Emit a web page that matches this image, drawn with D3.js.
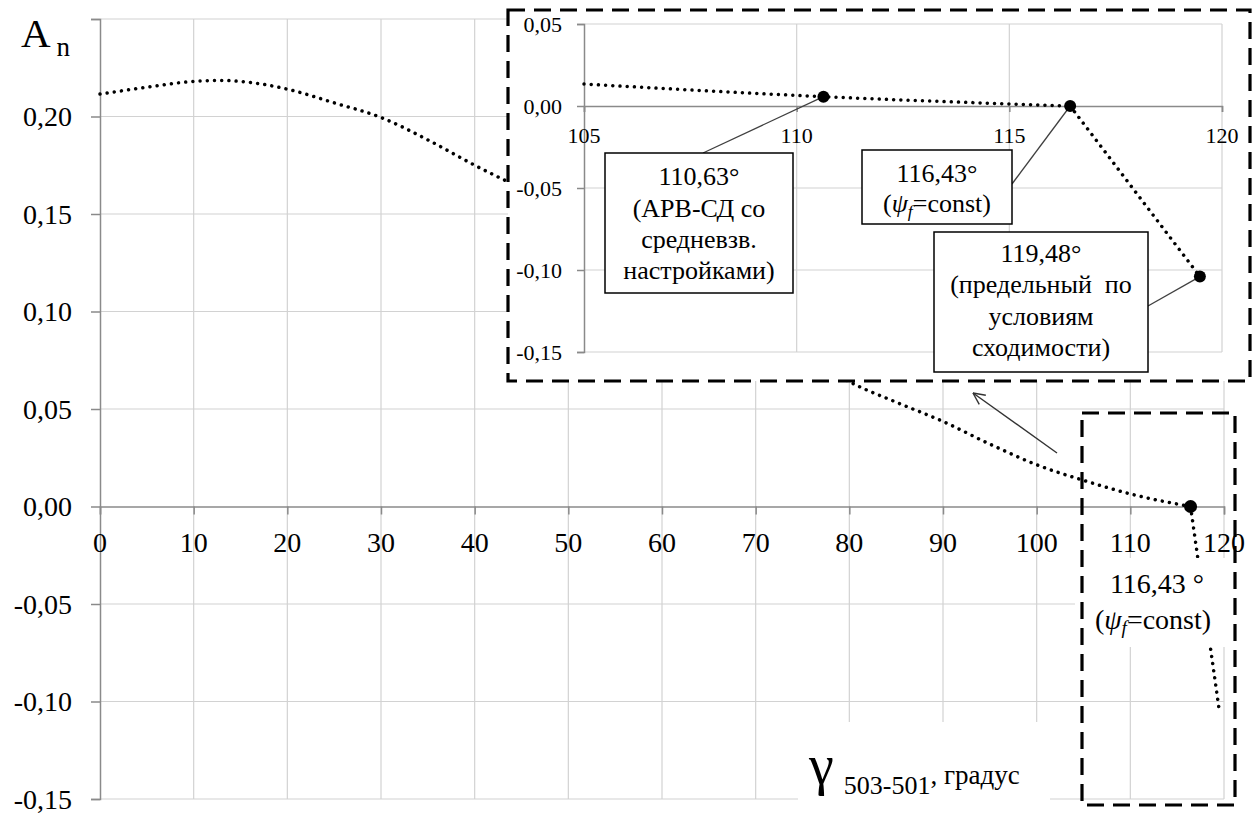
<!DOCTYPE html>
<html><head><meta charset="utf-8">
<script src="https://cdn.jsdelivr.net/npm/d3@7"></script>
<style>
body{margin:0;background:#fff;}
svg{display:block;}
</style></head>
<body>
<svg id="chart" width="1258" height="814" font-family="'Liberation Serif', 'Times New Roman', serif"></svg>
<script>
// ---------------- data ----------------
const gammaDeg = [0, 5, 10, 13, 15, 20, 25, 30, 35, 40, 45, 50, 55, 60, 65, 70, 75, 80, 85, 90, 95, 100, 105, 110.63, 116.43, 119.48];
const An = [0.2115, 0.215, 0.218, 0.2185, 0.218, 0.214, 0.207, 0.1995, 0.188, 0.175, 0.163, 0.150, 0.137, 0.123, 0.109, 0.094, 0.079, 0.064, 0.0535, 0.0436, 0.032, 0.0214, 0.0134, 0.0057, 0.0, -0.104];
const mainXTicks = [0, 10, 20, 30, 40, 50, 60, 70, 80, 90, 100, 110, 120];
const mainYTicks = [0.25, 0.20, 0.15, 0.10, 0.05, 0.00, -0.05, -0.10, -0.15];
const mainYLabels = ["", "0,20", "0,15", "0,10", "0,05", "0,00", "-0,05", "-0,10", "-0,15"];
const insetXTicks = [105, 110, 115, 120];
const insetYTicks = [0.05, 0.00, -0.05, -0.10, -0.15];
const insetYLabels = ["0,05", "0,00", "-0,05", "-0,10", "-0,15"];
const mainMarked = [116.43];
const insetMarked = [110.63, 116.43, 119.48];
const annoLines = [
  ["110,63°", "(АРВ-СД со", "средневзв.", "настройками)"],
  ["116,43°", "(ψ=const)"],
  ["119,48°", "(предельный  по", "условиям", "сходимости)"]
];

const svg = d3.select("#chart");
const pts = gammaDeg.map((g, i) => ({g, a: An[i]}));
const kink = gammaDeg.indexOf(116.43);
const smoothPts = pts.slice(0, kink + 1);
const tailPts = pts.slice(kink);

// ---------------- main chart ----------------
const x = d3.scaleLinear().domain([0, 120]).range([100, 1224]);
const y = d3.scaleLinear().domain([-0.15, 0.25]).range([799, 19]);

const grid = svg.append("g");
grid.selectAll(".vg").data(mainXTicks.filter(d => d > 0)).join("line")
  .attr("x1", d => x(d)).attr("x2", d => x(d)).attr("y1", y(0.25)).attr("y2", y(-0.15))
  .attr("stroke", "#d2d2d2").attr("stroke-width", 1.2);
grid.selectAll(".hg").data(mainYTicks.filter(d => d !== 0)).join("line")
  .attr("x1", x(0)).attr("x2", x(120)).attr("y1", d => y(d)).attr("y2", d => y(d))
  .attr("stroke", "#d2d2d2").attr("stroke-width", 1.2);

const yAxis = d3.axisLeft(y).tickValues(mainYTicks).tickSize(9).tickFormat("");
const ya = svg.append("g").attr("transform", `translate(${x(0)},0)`).call(yAxis);
ya.select(".domain").attr("stroke", "#8a8a8a").attr("stroke-width", 1.5);
ya.selectAll(".tick line").attr("stroke", "#8a8a8a").attr("stroke-width", 1.5);
svg.append("g").selectAll("text").data(mainYTicks).join("text")
  .attr("x", 72).attr("y", d => y(d)).attr("dy", "0.35em")
  .attr("text-anchor", "end").attr("font-size", 28)
  .text((d, i) => mainYLabels[i]);

const xAxis = d3.axisBottom(x).tickValues(mainXTicks).tickSize(8).tickFormat("");
const xa = svg.append("g").attr("transform", `translate(0,${y(0)})`).call(xAxis);
xa.select(".domain").attr("stroke", "#8a8a8a").attr("stroke-width", 1.5);
xa.selectAll(".tick line").attr("stroke", "#8a8a8a").attr("stroke-width", 1.5);
svg.append("g").selectAll("text").data(mainXTicks).join("text")
  .attr("x", d => x(d)).attr("y", 552)
  .attr("text-anchor", "middle").attr("font-size", 28)
  .text(d => d);

const yt = svg.append("text").attr("x", 21).attr("y", 47);
yt.append("tspan").attr("font-size", 41).text("A");
yt.append("tspan").attr("font-size", 27).attr("dx", 6).attr("dy", 9).text("n");

const lineSmooth = d3.line().x(d => x(d.g)).y(d => y(d.a)).curve(d3.curveMonotoneX);
const lineStraight = d3.line().x(d => x(d.g)).y(d => y(d.a));
const dotStyle = sel => sel.attr("fill", "none").attr("stroke", "#000").attr("stroke-width", 3.5)
  .attr("stroke-linecap", "round").attr("stroke-dasharray", "0.01 7.2");
svg.append("path").attr("d", lineSmooth(smoothPts)).call(dotStyle);
svg.append("path").attr("d", lineStraight(tailPts)).call(dotStyle);
svg.selectAll(".mdot").data(pts.filter(p => mainMarked.includes(p.g))).join("circle")
  .attr("cx", d => x(d.g)).attr("cy", d => y(d.a)).attr("r", 6.5).attr("fill", "#000");

svg.append("rect").attr("x", 1075).attr("y", 558).attr("width", 150).attr("height", 89).attr("fill", "#fff");
svg.append("rect").attr("x", 798).attr("y", 722).attr("width", 252).attr("height", 92).attr("fill", "#fff");

function psiLabel(sel, cx, by, fs) {
  const t = sel.append("text").attr("x", cx).attr("y", by).attr("text-anchor", "middle").attr("font-size", fs);
  t.append("tspan").text("(");
  t.append("tspan").attr("font-style", "italic").text("ψ");
  t.append("tspan").attr("font-style", "italic").attr("font-size", fs * 0.68).attr("dy", 5).text("f");
  t.append("tspan").attr("dy", -5).text("=const)");
  return t;
}
svg.append("text").attr("x", 1157).attr("y", 593).attr("text-anchor", "middle").attr("font-size", 28).text("116,43 °");
psiLabel(svg, 1153, 629, 28);

const xt = svg.append("text").attr("x", 809).attr("y", 784);
xt.append("tspan").attr("font-size", 56).text("γ");
xt.append("tspan").attr("font-size", 26).attr("dx", 10).attr("dy", 10).text("503-501");
xt.append("tspan").attr("font-size", 27).attr("dy", -10).text(", градус");

svg.append("rect").attr("x", 1082).attr("y", 413).attr("width", 153).attr("height", 392)
  .attr("fill", "none").attr("stroke", "#000").attr("stroke-width", 3.2).attr("stroke-dasharray", "17 9");

// ---------------- inset ----------------
const ix = d3.scaleLinear().domain([105, 120]).range([584, 1222]);
const iy = d3.scaleLinear().domain([-0.15, 0.05]).range([352, 24]);
const inset = svg.append("g");
inset.append("rect").attr("x", 508).attr("y", 10).attr("width", 742).attr("height", 371).attr("fill", "#fff");
inset.selectAll(".ivg").data(insetXTicks.filter(d => d > 105)).join("line")
  .attr("x1", d => ix(d)).attr("x2", d => ix(d)).attr("y1", iy(0.05)).attr("y2", iy(-0.15))
  .attr("stroke", "#d2d2d2").attr("stroke-width", 1.2);
inset.selectAll(".ihg").data(insetYTicks.filter(d => d !== 0)).join("line")
  .attr("x1", ix(105)).attr("x2", ix(120)).attr("y1", d => iy(d)).attr("y2", d => iy(d))
  .attr("stroke", "#d2d2d2").attr("stroke-width", 1.2);
const iya = inset.append("g").attr("transform", `translate(${ix(105)},0)`)
  .call(d3.axisLeft(iy).tickValues(insetYTicks).tickSize(7).tickFormat(""));
iya.select(".domain").attr("stroke", "#8a8a8a").attr("stroke-width", 1.5);
iya.selectAll(".tick line").attr("stroke", "#8a8a8a").attr("stroke-width", 1.5);
const ixa = inset.append("g").attr("transform", `translate(0,${iy(0)})`)
  .call(d3.axisBottom(ix).tickValues(insetXTicks).tickSize(6).tickFormat(""));
ixa.select(".domain").attr("stroke", "#8a8a8a").attr("stroke-width", 1.5);
ixa.selectAll(".tick line").attr("stroke", "#8a8a8a").attr("stroke-width", 1.5);
inset.append("g").selectAll("text").data(insetYTicks).join("text")
  .attr("x", 562).attr("y", d => iy(d)).attr("dy", "0.35em").attr("text-anchor", "end").attr("font-size", 22)
  .text((d, i) => insetYLabels[i]);
inset.append("g").selectAll("text").data(insetXTicks).join("text")
  .attr("x", d => ix(d)).attr("y", 143).attr("text-anchor", "middle").attr("font-size", 22)
  .text(d => d);

const insetPts = pts.filter(p => p.g >= 105);
const iSmooth = insetPts.filter(p => p.g <= 116.43);
const iLineS = d3.line().x(d => ix(d.g)).y(d => iy(d.a)).curve(d3.curveMonotoneX);
const iLineL = d3.line().x(d => ix(d.g)).y(d => iy(d.a));
inset.append("path").attr("d", iLineS(iSmooth)).call(dotStyle);
inset.append("path").attr("d", iLineL(tailPts)).call(dotStyle);

const boxGeom = [
  {x: 605, y: 153, w: 188, h: 140, lx: 703, ly: 153, base: [185, 217, 248, 279]},
  {x: 862, y: 150, w: 150, h: 74, lx: 1012, ly: 184, base: [182, 212]},
  {x: 934, y: 232, w: 214, h: 140, lx: 1148, ly: 306, base: [262, 293, 325, 356]}
];
const markedPts = pts.filter(p => insetMarked.includes(p.g));
boxGeom.forEach((b, i) => {
  const p = markedPts[i];
  inset.append("line").attr("x1", b.lx).attr("y1", b.ly).attr("x2", ix(p.g)).attr("y2", iy(p.a))
    .attr("stroke", "#404040").attr("stroke-width", 1.3);
  inset.append("rect").attr("x", b.x).attr("y", b.y).attr("width", b.w).attr("height", b.h)
    .attr("fill", "#fff").attr("stroke", "#000").attr("stroke-width", 1.5);
  const cx = b.x + b.w / 2;
  annoLines[i].forEach((ln, j) => {
    if (ln.startsWith("(ψ")) psiLabel(inset, cx, b.base[j], 26);
    else inset.append("text").attr("x", cx).attr("y", b.base[j]).attr("text-anchor", "middle")
      .attr("font-size", 26).style("white-space", "pre").text(ln);
  });
});
inset.selectAll(".idot").data(markedPts).join("circle")
  .attr("cx", d => ix(d.g)).attr("cy", d => iy(d.a)).attr("r", 6).attr("fill", "#000");

inset.append("rect").attr("x", 508).attr("y", 10).attr("width", 742).attr("height", 371)
  .attr("fill", "none").attr("stroke", "#000").attr("stroke-width", 3.2).attr("stroke-dasharray", "17 9");

svg.append("line").attr("x1", 1057).attr("y1", 453).attr("x2", 973).attr("y2", 393)
  .attr("stroke", "#333").attr("stroke-width", 1.4);
const ang = Math.atan2(453 - 393, 1057 - 973);
[0.45, -0.45].forEach(o => {
  svg.append("line").attr("x1", 973).attr("y1", 393)
    .attr("x2", 973 + 13 * Math.cos(ang + o)).attr("y2", 393 + 13 * Math.sin(ang + o))
    .attr("stroke", "#333").attr("stroke-width", 1.4);
});
</script>
</body></html>
